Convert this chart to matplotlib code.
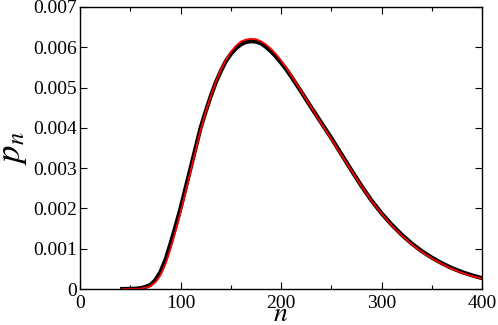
import numpy as np
import matplotlib
matplotlib.use("Agg")
import matplotlib.pyplot as plt
from matplotlib.ticker import MultipleLocator

plt.rcParams["font.family"] = "Liberation Serif"
plt.rcParams["mathtext.fontset"] = "stix"

# simulation (black dots)
n_sim = [42, 50, 55, 60, 65, 70, 75, 80, 85, 90, 95, 100, 105, 110, 115, 120, 125,
         130, 135, 140, 145, 150, 155, 160, 165, 170, 175, 180, 185, 190, 195,
         200, 205, 210, 215, 220, 230, 240, 250, 260, 270, 280, 290,
         300, 310, 320, 330, 340, 350, 360, 370, 380, 390, 400]
p_sim = [0.0, 0.000003, 0.000008, 0.00002, 0.00005, 0.00010, 0.00022, 0.00042,
         0.00072, 0.00112, 0.00155, 0.0020, 0.0025, 0.0030, 0.0035, 0.0040, 0.0044,
         0.00478, 0.00512, 0.0054, 0.00565, 0.00583, 0.00597, 0.00607, 0.00613,
         0.00615, 0.00614, 0.00610, 0.00601, 0.00590, 0.00577,
         0.00562, 0.00546, 0.00528, 0.00509, 0.00490,
         0.00451, 0.00413, 0.00375, 0.00335, 0.00295, 0.00256, 0.00220, 0.00188,
         0.00160, 0.00135, 0.00113, 0.00094, 0.00078, 0.00064, 0.00052, 0.00042,
         0.00034, 0.00027]

# theory (red line)
n_th = [42, 50, 55, 60, 65, 70, 75, 80, 85, 90, 95, 100, 105, 110, 115, 120, 125,
        130, 135, 140, 145, 150, 155, 160, 165, 170, 175, 180, 185, 190, 195,
        200, 205, 210, 215, 220, 230, 240, 250, 260, 270, 280, 290,
        300, 310, 320, 330, 340, 350, 360, 370, 380, 390, 400]
p_th = [0.0, 0.000001, 0.000004, 0.00001, 0.00003, 0.00007, 0.00017, 0.00034,
        0.00062, 0.00100, 0.00143, 0.00190, 0.0024, 0.00292, 0.00343, 0.00394, 0.00438,
        0.00478, 0.00513, 0.00543, 0.00568, 0.00588, 0.00603, 0.00614, 0.00619,
        0.00621, 0.00620, 0.00615, 0.00607, 0.00596, 0.00583,
        0.00567, 0.0055, 0.00531, 0.00511, 0.00491,
        0.00451, 0.00411, 0.00372, 0.00333, 0.00294, 0.00255, 0.00219, 0.00187,
        0.00158, 0.00133, 0.00111, 0.00092, 0.00076, 0.00062, 0.00050, 0.00040,
        0.00032, 0.00026]

yticks = [0, 0.001, 0.002, 0.003, 0.004, 0.005, 0.006, 0.007]
ylabels = ["0", "0.001", "0.002", "0.003", "0.004", "0.005", "0.006", "0.007"]
xticks = [0, 100, 200, 300, 400]

fig = plt.figure(figsize=(4.98, 3.25), dpi=100)
ax = fig.add_axes([80/498, 36/325, 402/498, 282/325])

ax.plot(n_sim, p_sim, color="black", lw=3.0)
ax.plot(n_th, p_th, color="red", lw=1.3)

ax.set_xlim(0, 400)
ax.set_ylim(0, 0.007)
ax.set_xticks(xticks)
ax.set_xticklabels([str(v) for v in xticks])
ax.xaxis.set_minor_locator(MultipleLocator(50))
ax.set_yticks(yticks)
ax.set_yticklabels(ylabels)

ax.tick_params(which="both", direction="in", top=True, right=True, labelsize=14)
ax.tick_params(which="major", length=5, width=0.8)
ax.tick_params(which="minor", length=3, width=0.8)
ax.tick_params(axis="x", pad=4)
ax.tick_params(axis="y", pad=2)
for s in ax.spines.values():
    s.set_linewidth(1.0)

ax.set_xlabel("$n$", fontsize=20, labelpad=-7)
ax.set_ylabel("$p_n$", fontsize=25, labelpad=3)

fig.savefig("out.png", dpi=100)
